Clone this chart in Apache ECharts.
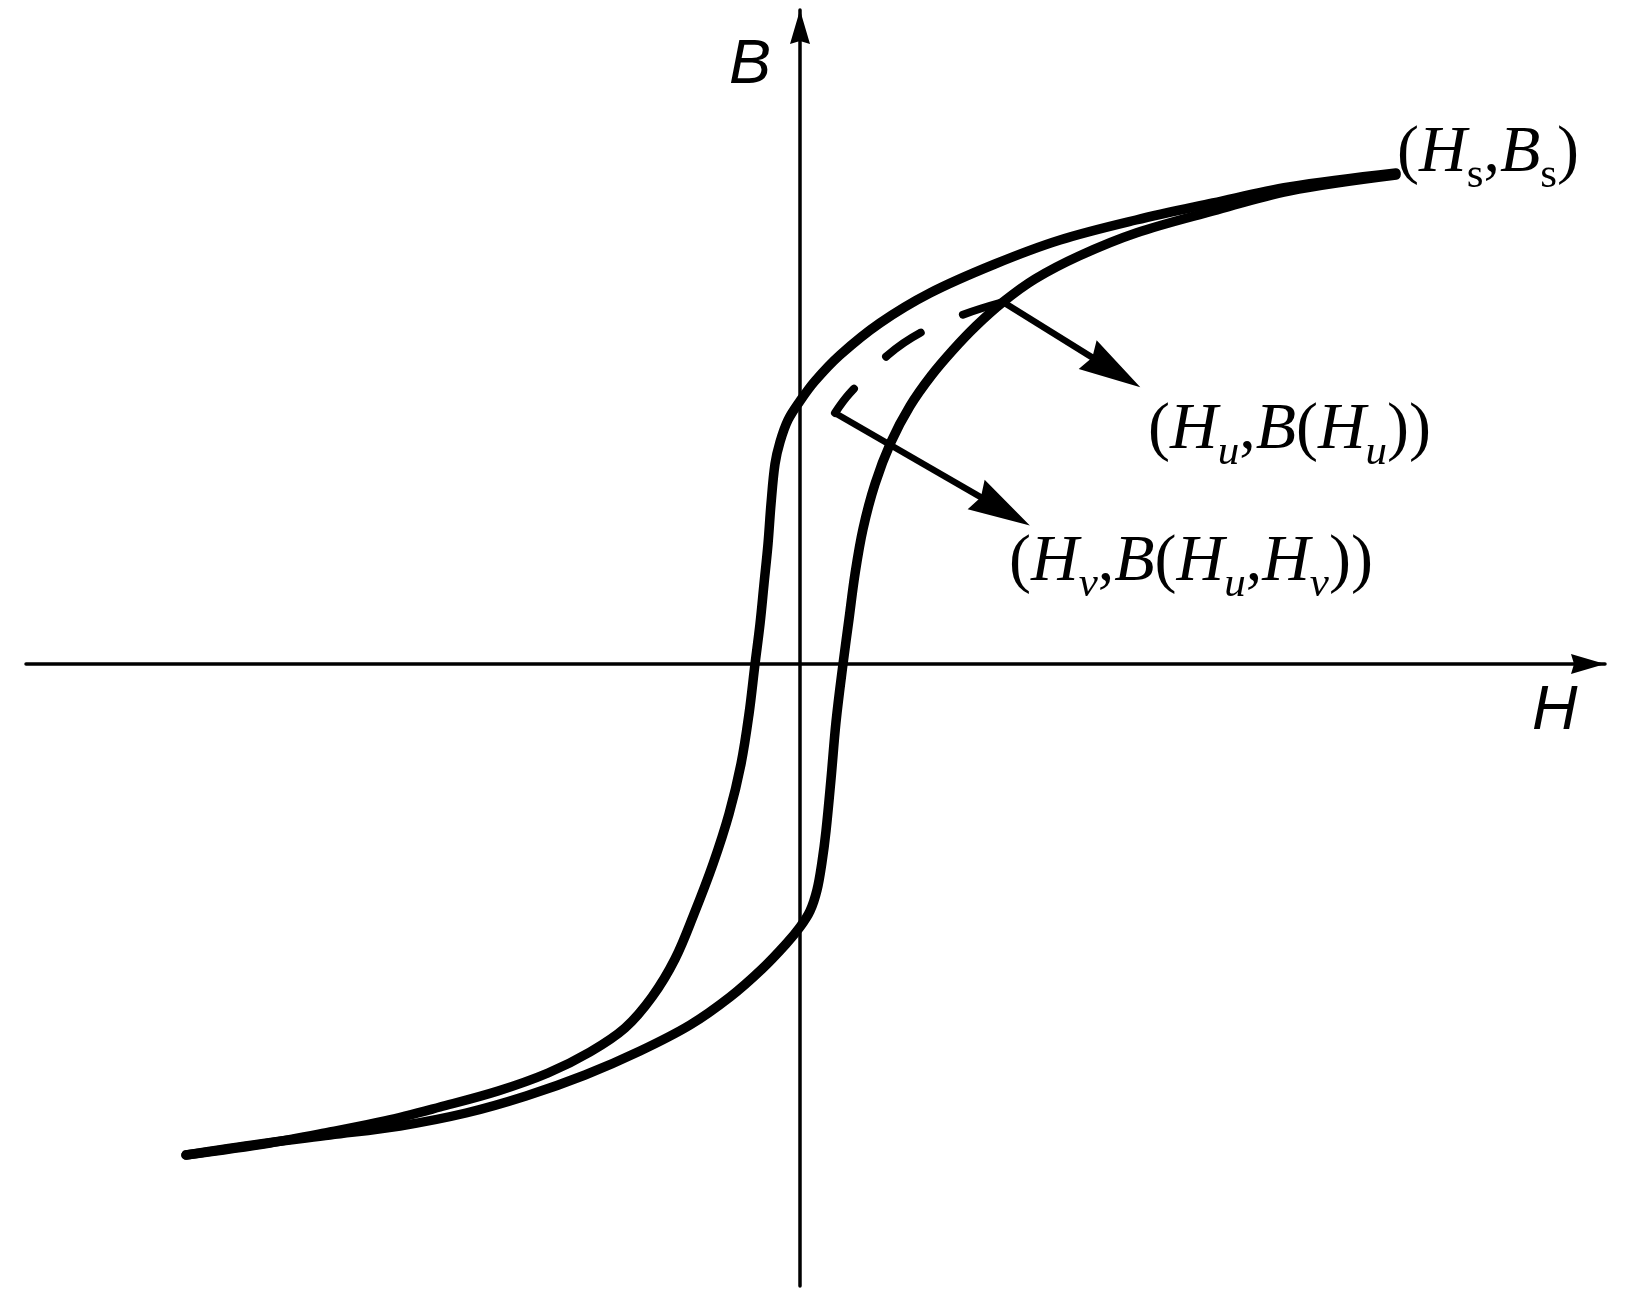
<!DOCTYPE html>
<html>
<head>
<meta charset="utf-8">
<title>B-H hysteresis loop</title>
<script src="https://cdn.jsdelivr.net/npm/echarts/dist/echarts.min.js"></script>
<style>
  html, body { margin: 0; padding: 0; background: #fff; }
  #chart { width: 1637px; height: 1299px; }
</style>
</head>
<body>
<div id="chart"></div>
<script>
// axis extents, origin where the H and B axes cross
var hRange = [-774, 805];
var bRange = [-622, 654];

// descending branch: from (Hs,Bs) down to (-Hs,-Bs)
var descH = [596, 489, 413, 336, 260, 195, 130, 80, 40, 15, 0, -12, -20, -25, -29, -32, -36, -40, -45,
  -51, -59, -71, -87, -106, -125, -148, -175, -210, -252, -302, -360, -415, -470, -530, -614];
var descB = [491, 477, 461, 444, 424, 400, 371, 341, 309, 283, 263, 244, 222, 200, 160, 120, 80, 40, 0,
  -50, -100, -150, -200, -250, -295, -333, -364, -388, -409, -427, -443, -457, -468, -479, -491];

// ascending branch: from (-Hs,-Bs) up to (Hs,Bs)
var ascH = [-614, -540, -470, -400, -334, -274, -215, -160, -110, -70, -38, -14, 0, 10, 17, 22, 26, 31, 36, 43,
  49, 55, 63, 75, 91, 110, 131, 153, 176, 203, 235, 279, 336, 413, 489, 596];
var ascB = [-491, -480, -471, -462, -449, -432, -411, -387, -361, -333, -305, -280, -263, -247, -226, -198, -167, -115, -58, 0,
  45, 90, 135, 180, 222, 258, 288, 314, 338, 362, 385, 408, 431, 453, 473, 489];

// reversal curve from (Hu,B(Hu)) back to Hv (dashed)
var revH = [203, 162, 120, 88, 50, 35];
var revB = [362, 349, 331, 309, 271, 251];

// annotation arrows: [start, head centre]
var arrowU = [[203, 362], [314, 293]];
var arrowV = [[35, 251], [203, 154]];

function pairs(h, b) {
  return h.map(function (v, i) { return [v, b[i]]; });
}

var arrowHead = 'path://M10,0L20,34L10,31L0,34Z';
var ink = '#000';

var chart = echarts.init(document.getElementById('chart'));

var serif = '"Liberation Serif", "Times New Roman", serif';
var rich = {
  p: { fontFamily: serif, fontSize: 66, lineHeight: 86, color: ink },
  i: { fontFamily: serif, fontSize: 66, fontStyle: 'italic', lineHeight: 86, color: ink },
  sr: { fontFamily: serif, fontSize: 43, lineHeight: 43, padding: [44, 0, 0, 0], color: ink },
  si: { fontFamily: serif, fontSize: 43, fontStyle: 'italic', lineHeight: 43, padding: [44, 0, 0, 0], color: ink }
};

function mathText(x, y, text) {
  return {
    type: 'text', x: x, y: y, silent: true,
    style: { text: text, rich: rich, align: 'left', verticalAlign: 'middle', fill: ink }
  };
}

function axisLabelText(x, y, text) {
  return {
    type: 'text', x: x, y: y, silent: true,
    style: {
      text: text, fill: ink, align: 'left', verticalAlign: 'middle',
      font: 'italic 63px "Liberation Sans", Arial, sans-serif'
    }
  };
}

var axisCommon = {
  type: 'value',
  axisLine: {
    onZero: true,
    symbol: ['none', arrowHead],
    symbolSize: [20, 34],
    symbolOffset: [0, -17],
    lineStyle: { color: ink, width: 3.5 }
  },
  axisTick: { show: false },
  axisLabel: { show: false },
  splitLine: { show: false }
};

var branchStyle = { color: ink, width: 9.5, cap: 'round', join: 'round' };

var option = {
  animation: false,
  backgroundColor: '#fff',
  grid: { left: 26, right: 32, top: 10, bottom: 13, containLabel: false },
  xAxis: Object.assign({}, axisCommon, { min: hRange[0], max: hRange[1] }),
  yAxis: Object.assign({}, axisCommon, { min: bRange[0], max: bRange[1] }),
  series: [
    {
      name: 'descending',
      type: 'line',
      data: pairs(descH, descB),
      smooth: 0.35,
      symbol: 'none',
      silent: true,
      lineStyle: branchStyle
    },
    {
      name: 'ascending',
      type: 'line',
      data: pairs(ascH, ascB),
      smooth: 0.35,
      symbol: 'none',
      silent: true,
      lineStyle: branchStyle
    },
    {
      name: 'reversal',
      type: 'line',
      data: pairs(revH, revB),
      smooth: 0.4,
      symbol: 'none',
      silent: true,
      lineStyle: { color: ink, width: 8, type: [42, 46], cap: 'round' },
      markLine: {
        silent: true,
        symbol: ['none', arrowHead],
        symbolSize: [34, 62],
        label: { show: false },
        lineStyle: { color: ink, width: 6.5, type: 'solid' },
        data: [
          [{ coord: arrowU[0] }, { coord: arrowU[1] }],
          [{ coord: arrowV[0] }, { coord: arrowV[1] }]
        ]
      }
    }
  ],
  graphic: [
    axisLabelText(729, 65, 'B'),
    axisLabelText(1532, 711, 'H'),
    mathText(1397, 154, '{p|(}{i|H}{sr|s}{p|,}{i|B}{sr|s}{p|)}'),
    mathText(1148, 431, '{p|(}{i|H}{si|u}{p|,}{i|B}{p|(}{i|H}{si|u}{p|))}'),
    mathText(1009, 563, '{p|(}{i|H}{si|v}{p|,}{i|B}{p|(}{i|H}{si|u}{p|,}{i|H}{si|v}{p|))}')
  ]
};

chart.setOption(option);
</script>
</body>
</html>
